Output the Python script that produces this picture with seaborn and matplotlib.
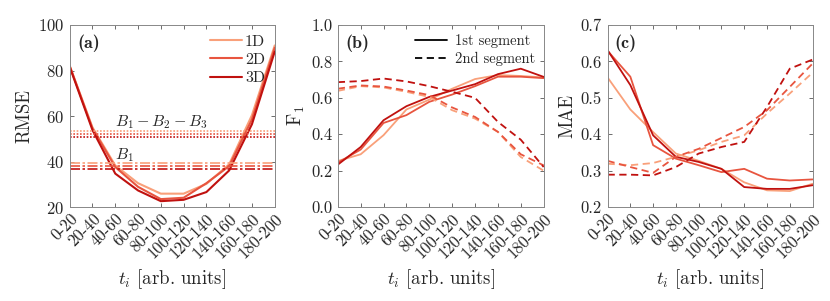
import numpy as np
import pandas as pd
import seaborn as sns
import matplotlib.pyplot as plt

# category labels on the x axis
t_labels = ['0-20', '20-40', '40-60', '60-80', '80-100', '100-120',
            '120-140', '140-160', '160-180', '180-200']
dims = ['1D', '2D', '3D']

# (a) RMSE
rmse_1d = [82, 55, 38.3, 30.5, 25.9, 25.9, 30.2, 38.8, 60.4, 91]
rmse_2d = [82, 54.5, 37.6, 28.9, 23.5, 24.1, 30.5, 38.0, 58.5, 90]
rmse_3d = [81.6, 53.8, 34.7, 27.3, 22.6, 23.2, 26.6, 36.1, 56.4, 88.3]
base_b123 = [53.6, 52.1, 50.7]
base_b1 = [39.2, 38.2, 36.9]

# (b) F1, 1st and 2nd segment
f1_seg1_1d = [0.253, 0.29, 0.395, 0.536, 0.59, 0.65, 0.703, 0.725, 0.72, 0.712]
f1_seg1_2d = [0.244, 0.316, 0.462, 0.505, 0.578, 0.618, 0.664, 0.716, 0.716, 0.708]
f1_seg1_3d = [0.233, 0.33, 0.477, 0.554, 0.605, 0.64, 0.675, 0.73, 0.76, 0.715]
f1_seg2_1d = [0.638, 0.664, 0.657, 0.633, 0.605, 0.532, 0.486, 0.413, 0.275, 0.20]
f1_seg2_2d = [0.650, 0.668, 0.662, 0.640, 0.615, 0.547, 0.495, 0.413, 0.29, 0.229]
f1_seg2_3d = [0.686, 0.692, 0.706, 0.69, 0.664, 0.633, 0.60, 0.468, 0.37, 0.22]

# (c) MAE, 1st and 2nd segment
mae_seg1_1d = [0.556, 0.468, 0.406, 0.347, 0.327, 0.305, 0.268, 0.246, 0.244, 0.264]
mae_seg1_2d = [0.629, 0.558, 0.37, 0.333, 0.315, 0.296, 0.305, 0.278, 0.273, 0.276]
mae_seg1_3d = [0.631, 0.535, 0.397, 0.338, 0.324, 0.305, 0.255, 0.25, 0.25, 0.26]
mae_seg2_1d = [0.319, 0.315, 0.321, 0.338, 0.356, 0.379, 0.397, 0.457, 0.512, 0.569]
mae_seg2_2d = [0.327, 0.31, 0.294, 0.338, 0.36, 0.39, 0.42, 0.466, 0.53, 0.594]
mae_seg2_3d = [0.289, 0.289, 0.287, 0.31, 0.347, 0.365, 0.379, 0.475, 0.58, 0.605]

colors = {'1D': '#f9a07a', '2D': '#e8553f', '3D': '#c0110f'}

sns.set_theme(style='ticks')
plt.rcParams['font.family'] = ['cmr10', 'DejaVu Serif']
plt.rcParams['mathtext.fontset'] = 'cm'
plt.rcParams['axes.unicode_minus'] = False
plt.rcParams['axes.formatter.use_mathtext'] = True


def long_form(series):
    rows = []
    for dim, vals in series.items():
        for i, v in enumerate(vals):
            rows.append({'t': i, 'val': v, 'dim': dim})
    return pd.DataFrame(rows)


def style_axis(ax, ylim, yticks, ylabel, tag):
    ax.set_xlim(0, len(t_labels) - 1)
    ax.set_ylim(*ylim)
    ax.set_yticks(yticks)
    ax.set_xticks(range(len(t_labels)))
    ax.set_xticklabels(t_labels, rotation=45, ha='right', rotation_mode='anchor')
    ax.tick_params(direction='in', top=True, right=True, length=3, width=0.6,
                   color='#555555', labelsize=12, labelcolor='#262626', pad=4)
    ax.tick_params(axis='x', pad=3)
    for s in ax.spines.values():
        s.set_color('#888888')
        s.set_linewidth(0.7)
    ax.set_xlabel(r'$t_i$ [arb. units]', fontsize=13.5, color='#262626', labelpad=4)
    ax.set_ylabel(ylabel, fontsize=13.5, color='#262626', labelpad=3)
    ax.text(0.035, 0.95, '(' + tag + ')', transform=ax.transAxes,
            fontsize=13, va='top', ha='left', family='cmb10')


fig = plt.figure(figsize=(8.3, 3.01), dpi=100)
axa = fig.add_axes([0.084, 0.312, 0.247, 0.605])
axb = fig.add_axes([0.407, 0.312, 0.248, 0.605])
axc = fig.add_axes([0.732, 0.312, 0.247, 0.605])

# (a)
df_a = long_form({'1D': rmse_1d, '2D': rmse_2d, '3D': rmse_3d})
sns.lineplot(data=df_a, x='t', y='val', hue='dim', palette=colors, lw=1.5, ax=axa)
for i, d in enumerate(dims):
    axa.axhline(base_b123[i], color=colors[d], lw=1.2, ls=(0, (1, 1)))
    axa.axhline(base_b1[i], color=colors[d], lw=1.2, ls=(0, (6, 1.5, 1.5, 1.5)))
axa.text(2.0, 55.5, r'$B_1 - B_2 - B_3$', fontsize=11.5, color='#262626')
axa.text(2.0, 41, r'$B_1$', fontsize=11.5, color='#262626')
style_axis(axa, (20, 100), [20, 40, 60, 80, 100], 'RMSE', 'a')
axa.legend(loc='upper right', frameon=False, fontsize=11.5, handlelength=2.0,
           handletextpad=0.2, labelspacing=0.25, borderaxespad=0.2)

# (b)
df_b1 = long_form({'1D': f1_seg1_1d, '2D': f1_seg1_2d, '3D': f1_seg1_3d})
df_b2 = long_form({'1D': f1_seg2_1d, '2D': f1_seg2_2d, '3D': f1_seg2_3d})
sns.lineplot(data=df_b1, x='t', y='val', hue='dim', palette=colors, lw=1.3,
             legend=False, ax=axb)
sns.lineplot(data=df_b2, x='t', y='val', hue='dim', palette=colors, lw=1.3,
             legend=False, ax=axb)
for ln in axb.lines[3:]:
    ln.set_linestyle((0, (4, 2.5)))
style_axis(axb, (0, 1), [0, 0.2, 0.4, 0.6, 0.8, 1.0], r'F$_1$', 'b')
axb.yaxis.set_major_formatter(plt.FormatStrFormatter('%.1f'))
h1, = axb.plot([], [], color='black', lw=1.3, label='1st segment')
h2, = axb.plot([], [], color='black', lw=1.3, ls=(0, (4, 2.5)), label='2nd segment')
axb.legend(handles=[h1, h2], loc='upper right', frameon=False, fontsize=10.5,
           handlelength=2.2, handletextpad=0.5, labelspacing=0.3, borderaxespad=0.2)

# (c)
df_c1 = long_form({'1D': mae_seg1_1d, '2D': mae_seg1_2d, '3D': mae_seg1_3d})
df_c2 = long_form({'1D': mae_seg2_1d, '2D': mae_seg2_2d, '3D': mae_seg2_3d})
sns.lineplot(data=df_c1, x='t', y='val', hue='dim', palette=colors, lw=1.3,
             legend=False, ax=axc)
sns.lineplot(data=df_c2, x='t', y='val', hue='dim', palette=colors, lw=1.3,
             legend=False, ax=axc)
for ln in axc.lines[3:]:
    ln.set_linestyle((0, (4, 2.5)))
style_axis(axc, (0.2, 0.7), [0.2, 0.3, 0.4, 0.5, 0.6, 0.7], 'MAE', 'c')
axc.yaxis.set_major_formatter(plt.FormatStrFormatter('%.1f'))

fig.savefig('out.png', dpi=100)
